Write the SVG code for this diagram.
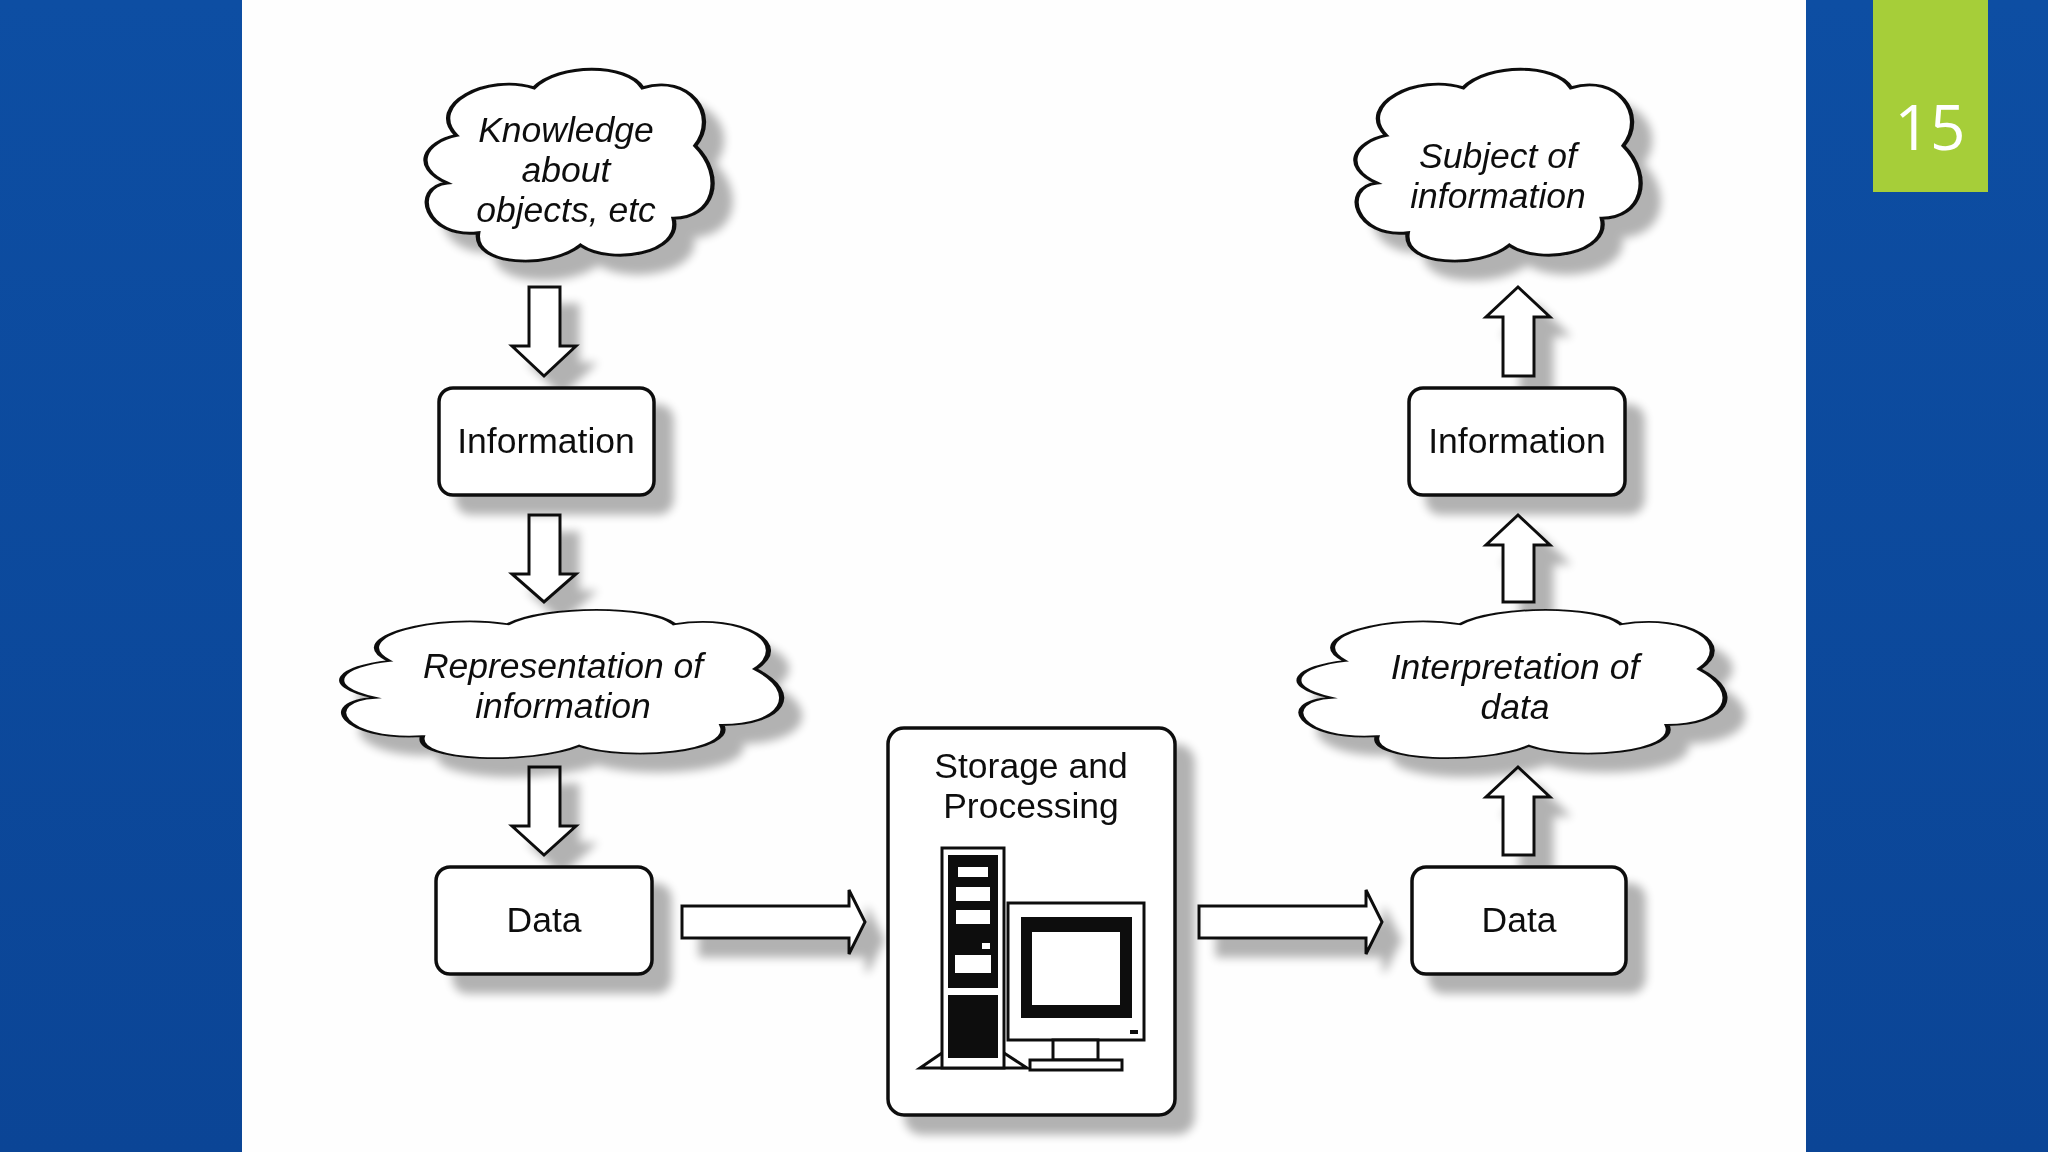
<svg xmlns="http://www.w3.org/2000/svg" width="2048" height="1152" viewBox="0 0 2048 1152">
<defs>
<linearGradient id="bg" x1="0" y1="0" x2="0" y2="1"><stop offset="0" stop-color="#0d4ea3"/><stop offset="1" stop-color="#0b4596"/></linearGradient>
<filter id="sh" x="-20%" y="-20%" width="150%" height="150%"><feGaussianBlur in="SourceAlpha" stdDeviation="5"/><feOffset dx="18" dy="18"/><feComponentTransfer><feFuncA type="linear" slope="0.3"/></feComponentTransfer><feMerge><feMergeNode/><feMergeNode in="SourceGraphic"/></feMerge></filter>
<path id="cloud" d="M 15,35 C 5,20 25,5 40,12 C 48,0 70,0 75,12 C 90,5 100,25 92,40 C 102,55 98,75 85,75 C 88,92 65,98 55,88 C 45,100 20,98 22,82 C 5,85 0,60 12,58 C 0,50 5,38 15,35 Z"/>
</defs>
<style>
.box{fill:#fff;stroke:#111;stroke-width:3.5}
.cl{fill:#fff;stroke:#111;stroke-width:3.5}
.ar{fill:#fff;stroke:#111;stroke-width:3;stroke-linejoin:miter}
.t{font-family:"Liberation Sans",Arial,sans-serif;font-size:35.5px;fill:#111;text-anchor:middle}
.i{font-style:italic}
.k{fill:#111}
.w{fill:#fff}
</style>
<rect width="2048" height="1152" fill="url(#bg)"/>
<rect x="242" y="0" width="1564" height="1152" fill="#fefefe"/>
<rect x="1873" y="0" width="115" height="192" fill="#a6ce39"/>
<text x="1930" y="150" font-family="'Open Sans','Liberation Sans',sans-serif" font-size="62" fill="#fff" text-anchor="middle">15</text>

<g id="connectors" filter="url(#sh)">
<path class="ar" d="M529,287 H560 V346 H576 L544,376 L512,346 H529 Z"/>
<path class="ar" d="M529,515 H560 V574 H576 L544,602 L512,574 H529 Z"/>
<path class="ar" d="M529,767 H560 V826 H576 L544,855 L512,826 H529 Z"/>
<path class="ar" d="M1503,376 H1534 V317 H1550 L1518,287 L1486,317 H1503 Z"/>
<path class="ar" d="M1503,602 H1534 V545 H1550 L1518,515 L1486,545 H1503 Z"/>
<path class="ar" d="M1503,855 H1534 V797 H1550 L1518,767 L1486,797 H1503 Z"/>
<path class="ar" d="M682,906 H849 V890 L865,922 L849,954 V938 H682 Z"/>
<path class="ar" d="M1199,906 H1366 V890 L1382,922 L1366,954 V938 H1199 Z"/>
</g>

<g id="knowledge" filter="url(#sh)">
<use href="#cloud" class="cl" transform="translate(410,63) scale(3.1,2.07)" style="stroke-width:1.4"/>
<text class="t i" x="566" y="142">Knowledge</text><text class="t i" x="566" y="182">about</text><text class="t i" x="566" y="222">objects, etc</text>
</g>
<g id="info-left" filter="url(#sh)">
<rect class="box" x="439" y="388" width="215" height="107" rx="14"/>
<text class="t" x="546" y="453">Information</text>
</g>
<g id="representation" filter="url(#sh)">
<use href="#cloud" class="cl" transform="translate(318,605) scale(4.75,1.6)" style="stroke-width:1.1"/>
<text class="t i" x="563" y="678">Representation of</text><text class="t i" x="563" y="718">information</text>
</g>
<g id="data-left" filter="url(#sh)">
<rect class="box" x="436" y="867" width="216" height="107" rx="14"/>
<text class="t" x="544" y="932">Data</text>
</g>
<g id="storage" filter="url(#sh)">
<rect class="box" x="888" y="728" width="287" height="387" rx="16"/>
<text class="t" x="1031" y="778">Storage and</text><text class="t" x="1031" y="818">Processing</text>
<g stroke="#111" stroke-width="3" fill="#fff">
<path d="M942,1053 L920,1068 H1027 L1004,1053 Z"/>
<rect x="942" y="848" width="62" height="220"/>
<rect x="1008" y="903" width="136" height="137"/>
<rect x="1053" y="1040" width="45" height="20"/>
<rect x="1030" y="1060" width="92" height="10"/>
</g>
<rect class="k" x="948" y="855" width="50" height="133"/>
<rect class="k" x="948" y="995" width="50" height="63"/>
<rect class="w" x="958" y="867" width="30" height="10"/>
<rect class="w" x="956" y="887" width="34" height="14"/>
<rect class="w" x="956" y="910" width="34" height="14"/>
<rect class="w" x="955" y="955" width="36" height="18"/>
<rect class="w" x="982" y="943" width="8" height="6"/>
<rect class="k" x="1021" y="917" width="111" height="101"/>
<rect class="w" x="1032" y="932" width="88" height="73"/>
<rect class="k" x="1130" y="1030" width="8" height="4"/>
</g>
<g id="interpretation" filter="url(#sh)">
<use href="#cloud" class="cl" transform="translate(1276,605) scale(4.6,1.6)" style="stroke-width:1.1"/>
<text class="t i" x="1515" y="679">Interpretation of</text><text class="t i" x="1515" y="719">data</text>
</g>
<g id="data-right" filter="url(#sh)">
<rect class="box" x="1412" y="867" width="214" height="107" rx="14"/>
<text class="t" x="1519" y="932">Data</text>
</g>
<g id="info-right" filter="url(#sh)">
<rect class="box" x="1409" y="388" width="216" height="107" rx="14"/>
<text class="t" x="1517" y="453">Information</text>
</g>
<g id="subject" filter="url(#sh)">
<use href="#cloud" class="cl" transform="translate(1340,63) scale(3.08,2.07)" style="stroke-width:1.4"/>
<text class="t i" x="1498" y="168">Subject of</text><text class="t i" x="1498" y="208">information</text>
</g>
</svg>
